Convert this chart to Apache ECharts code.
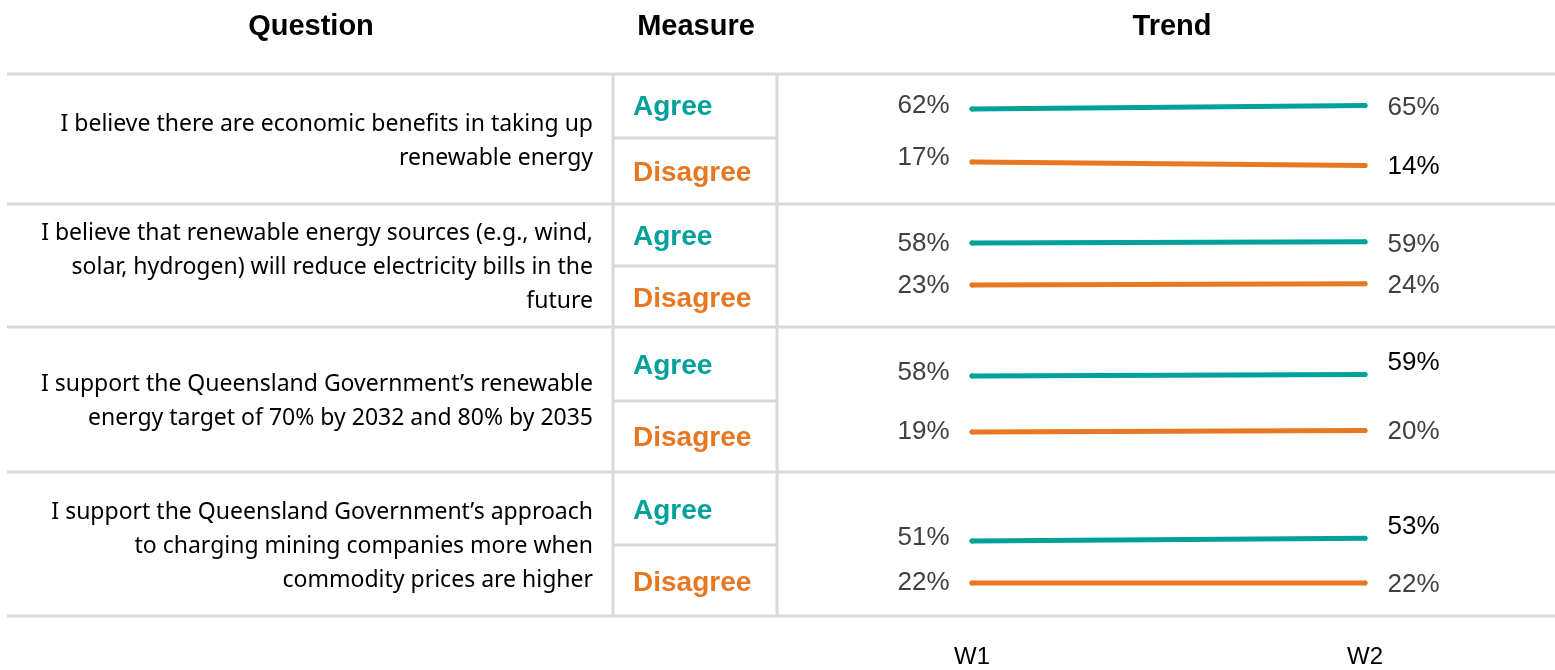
<!DOCTYPE html>
<html>
<head>
<meta charset="utf-8">
<script src="https://cdn.jsdelivr.net/npm/echarts@6/dist/echarts.min.js"></script>
<style>
  html, body { margin: 0; padding: 0; background: #fff; }
  #trendChart { width: 1555px; height: 670px; }
</style>
</head>
<body>
<div id="trendChart"></div>
<script>
// chart data
const waves = ['W1', 'W2']
const questions = [
  'I believe there are economic benefits in taking up\nrenewable energy',
  'I believe that renewable energy sources (e.g., wind,\nsolar, hydrogen) will reduce electricity bills in the\nfuture',
  'I support the Queensland Government\u2019s renewable\nenergy target of 70% by 2032 and 80% by 2035',
  'I support the Queensland Government\u2019s approach\nto charging mining companies more when\ncommodity prices are higher'
]
const measures = ['Agree', 'Disagree']
const agreeValues = [[62, 65], [58, 59], [58, 59], [51, 53]]
const disagreeValues = [[17, 14], [23, 24], [19, 20], [22, 22]]

// layout (pixels)
const rowLines = [74, 204, 327, 472, 616]
const measureSplit = [138, 266, 401, 545]
const agreeTextY = [107, 237, 366, 511]
const disagreeTextY = [173, 299, 438, 583]
const gridTops = [64.4, 192.6, 315.7, 470.1]
const gridHeights = [117.6, 120, 143.6, 144.8]
// label tweaks: [row][series][point] vertical offset, and dark labels
const labelOffsets = [
  [[-3, 2], [-4, 1]],
  [[1, 3], [1, 2]],
  [[-3, -12], [0, 1]],
  [[-3, -11], [0, 2]]
]
const darkLabels = [
  [[false, false], [false, true]],
  [[false, false], [false, false]],
  [[false, true], [false, false]],
  [[false, true], [false, false]]
]

const teal = '#00A19A'
const orange = '#E87722'
const lineGray = '#D9D9D9'

let myChart = echarts.init(document.getElementById('trendChart'))

let grids = []
let xAxes = []
let yAxes = []
let series = []

gridTops.forEach((top, i) => {
  grids.push({ left: 972, right: 190, top: top, height: gridHeights[i] })
  xAxes.push({
    type: 'category',
    gridIndex: i,
    data: waves,
    boundaryGap: false,
    axisLine: { show: false },
    axisTick: { show: false },
    splitLine: { show: false },
    axisLabel: {
      show: i === gridTops.length - 1,
      margin: 30,
      color: '#000',
      fontSize: 24,
      fontFamily: 'Liberation Sans'
    }
  })
  yAxes.push({
    type: 'value',
    gridIndex: i,
    min: 0,
    max: 100,
    show: false,
    splitLine: { show: false }
  })
  ;[agreeValues[i], disagreeValues[i]].forEach((vals, s) => {
    const color = s === 0 ? teal : orange
    series.push({
      name: measures[s],
      type: 'line',
      xAxisIndex: i,
      yAxisIndex: i,
      symbol: 'circle',
      symbolSize: 5,
      silent: true,
      itemStyle: { color: color },
      lineStyle: { color: color, width: 5, cap: 'round' },
      label: {
        show: true,
        formatter: '{c}%',
        fontSize: 26,
        fontFamily: 'Liberation Sans'
      },
      data: vals.map((v, k) => ({
        value: v,
        label: {
          position: k === 0 ? 'left' : 'right',
          distance: 20,
          offset: [0, labelOffsets[i][s][k]],
          color: darkLabels[i][s][k] ? '#000' : '#404040'
        }
      }))
    })
  })
})

// table lines and texts
let graphics = []
rowLines.forEach(y => {
  graphics.push({
    type: 'line',
    shape: { x1: 7, y1: y, x2: 1555, y2: y },
    style: { stroke: lineGray, lineWidth: 3 },
    silent: true
  })
})
;[613, 777].forEach(x => {
  graphics.push({
    type: 'line',
    shape: { x1: x, y1: rowLines[0], x2: x, y2: rowLines[rowLines.length - 1] },
    style: { stroke: lineGray, lineWidth: 3 },
    silent: true
  })
})
measureSplit.forEach(y => {
  graphics.push({
    type: 'line',
    shape: { x1: 613, y1: y, x2: 777, y2: y },
    style: { stroke: lineGray, lineWidth: 3 },
    silent: true
  })
})

const headers = [['Question', 311], ['Measure', 696], ['Trend', 1172]]
headers.forEach(h => {
  graphics.push({
    type: 'text',
    x: h[1],
    y: 27,
    style: {
      text: h[0],
      fill: '#000',
      font: 'bold 29px "Liberation Sans"',
      textAlign: 'center',
      textVerticalAlign: 'middle'
    }
  })
})

questions.forEach((q, i) => {
  const cy = (rowLines[i] + rowLines[i + 1]) / 2 + 2
  graphics.push({
    type: 'text',
    x: 593,
    y: cy,
    style: {
      text: q,
      fill: '#000',
      font: '23px "Noto Sans"',
      lineHeight: 34,
      textAlign: 'right',
      textVerticalAlign: 'middle'
    }
  })
  graphics.push({
    type: 'text',
    x: 633,
    y: agreeTextY[i],
    style: {
      text: measures[0],
      fill: teal,
      font: 'bold 28px "Liberation Sans"',
      textAlign: 'left',
      textVerticalAlign: 'middle'
    }
  })
  graphics.push({
    type: 'text',
    x: 633,
    y: disagreeTextY[i],
    style: {
      text: measures[1],
      fill: orange,
      font: 'bold 28px "Liberation Sans"',
      textAlign: 'left',
      textVerticalAlign: 'middle'
    }
  })
})

let option = {
  animation: false,
  backgroundColor: '#fff',
  grid: grids,
  xAxis: xAxes,
  yAxis: yAxes,
  series: series,
  graphic: graphics
}
myChart.setOption(option)
</script>
</body>
</html>
